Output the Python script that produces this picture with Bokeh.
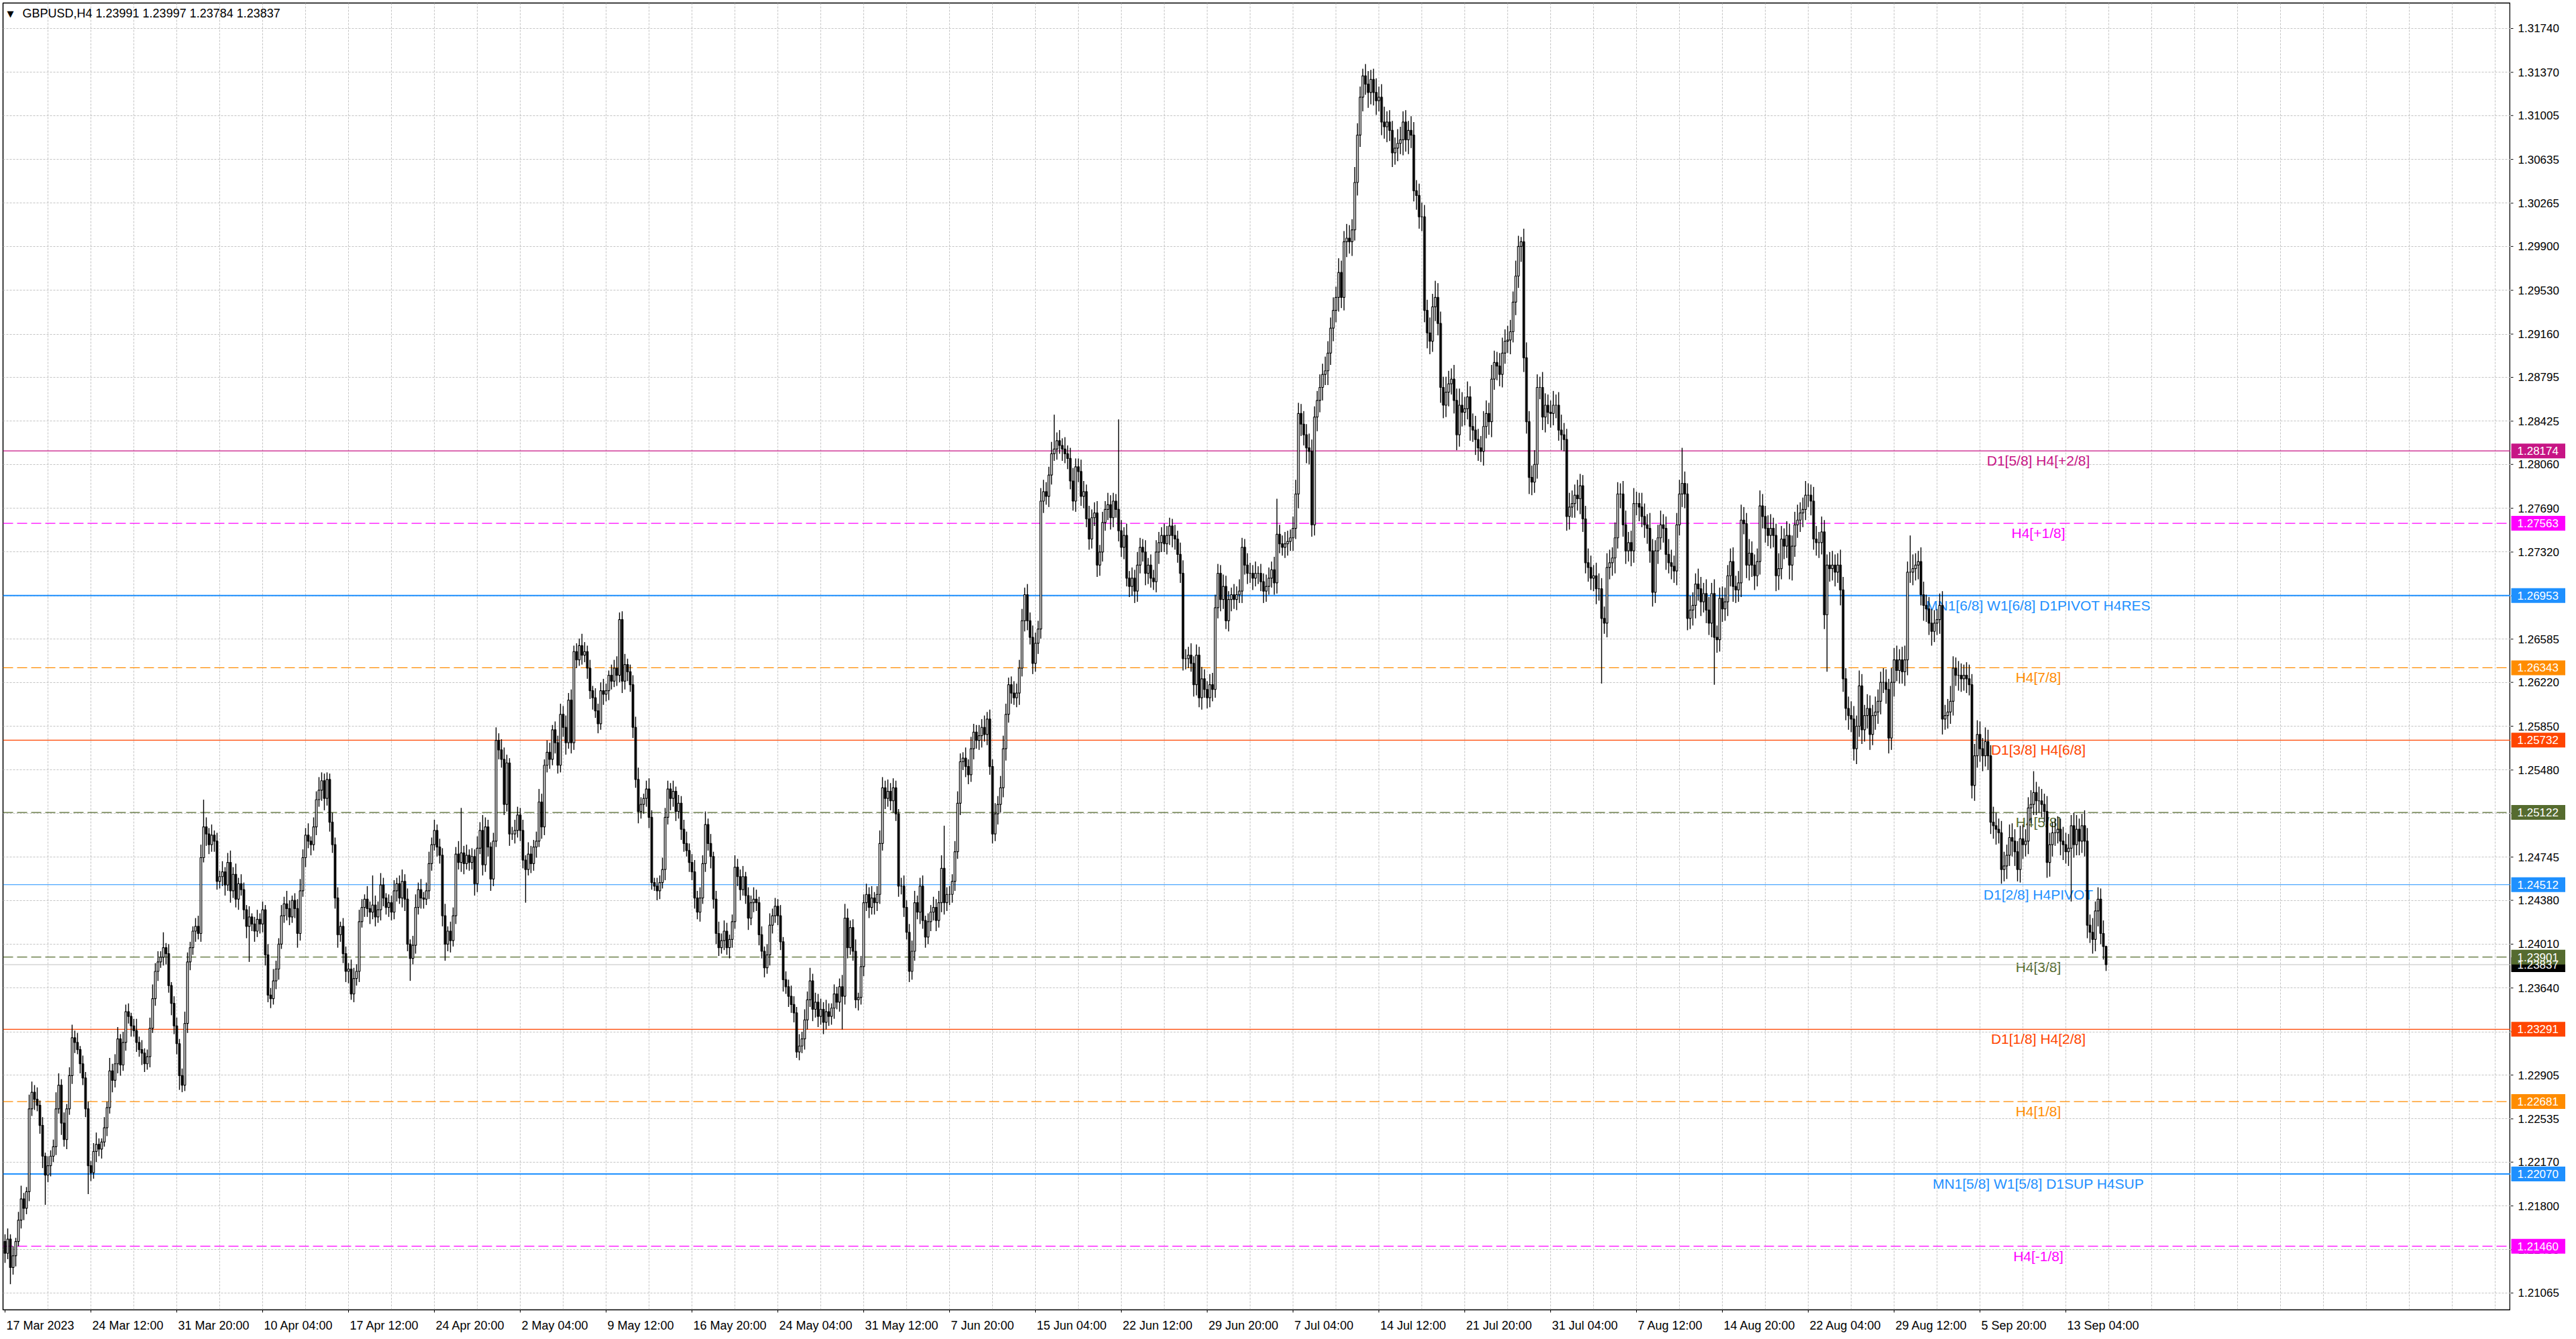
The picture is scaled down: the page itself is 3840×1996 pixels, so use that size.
import numpy as np
from bokeh.plotting import figure
from bokeh.layouts import row
from bokeh.models import (ColumnDataSource, Span, Label, FixedTicker, Range1d, LinearAxis,
                          CustomJSTickFormatter)
from bokeh.core.properties import value
from bokeh.embed import file_html
from bokeh.resources import INLINE

# GBPUSD H4 closes, in pips above 1.2000 (one row = 16 bars)
close_pips = [
    140, 152, 128, 138, 150, 168, 186, 178, 192, 262, 276, 270, 265, 248, 222, 206,
    214, 222, 230, 262, 282, 250, 236, 262, 290, 322, 318, 312, 300, 288, 262, 214,
    208, 226, 232, 228, 234, 246, 263, 294, 286, 300, 321, 299, 318, 344, 340, 332,
    328, 318, 312, 309, 300, 306, 330, 355, 378, 386, 390, 398, 393, 366, 351, 332,
    317, 290, 282, 334, 386, 398, 412, 416, 410, 474, 500, 494, 485, 493, 488, 454,
    458, 462, 451, 470, 446, 460, 439, 452, 447, 430, 416, 424, 418, 412, 422, 418,
    430, 392, 358, 355, 370, 380, 401, 425, 435, 431, 424, 438, 431, 410, 446, 474,
    493, 488, 485, 500, 523, 531, 539, 524, 540, 504, 485, 440, 409, 416, 393, 378,
    380, 359, 372, 378, 420, 432, 439, 431, 428, 434, 424, 430, 451, 440, 432, 436,
    428, 446, 452, 440, 454, 439, 401, 389, 400, 432, 447, 440, 439, 446, 469, 485,
    497, 483, 476, 425, 401, 412, 404, 425, 477, 470, 478, 469, 476, 470, 475, 452,
    482, 497, 468, 500, 483, 456, 488, 573, 565, 557, 519, 554, 494, 494, 497, 510,
    497, 472, 464, 477, 469, 483, 488, 521, 500, 552, 563, 557, 582, 571, 552, 595,
    584, 571, 607, 571, 648, 641, 653, 645, 648, 634, 615, 609, 598, 587, 615, 612,
    615, 628, 623, 634, 628, 675, 623, 637, 631, 620, 584, 540, 513, 519, 524, 532,
    508, 453, 450, 446, 453, 464, 508, 532, 524, 530, 513, 520, 498, 486, 480, 470,
    462, 440, 428, 440, 469, 502, 486, 475, 439, 410, 398, 404, 412, 398, 405, 420,
    466, 458, 447, 458, 442, 423, 436, 439, 436, 409, 395, 381, 392, 417, 425, 433,
    425, 403, 371, 365, 357, 350, 343, 310, 315, 321, 337, 354, 370, 346, 352, 340,
    346, 335, 344, 340, 347, 359, 352, 365, 357, 423, 398, 415, 395, 354, 356, 382,
    436, 443, 432, 440, 436, 443, 486, 533, 524, 530, 522, 533, 511, 450, 450, 432,
    411, 378, 395, 436, 428, 450, 421, 407, 420, 428, 432, 421, 436, 465, 436, 443,
    443, 454, 479, 520, 555, 558, 551, 544, 566, 580, 573, 577, 584, 578, 591, 551,
    494, 511, 519, 533, 566, 595, 620, 613, 609, 613, 634, 674, 696, 674, 660, 638,
    655, 667, 775, 783, 779, 797, 815, 819, 826, 822, 819, 815, 811, 792, 775, 804,
    800, 779, 783, 760, 743, 761, 765, 721, 732, 757, 768, 772, 761, 775, 768, 750,
    736, 746, 710, 703, 710, 699, 721, 736, 732, 714, 721, 710, 707, 732, 740, 746,
    739, 746, 754, 746, 743, 730, 714, 642, 642, 645, 638, 620, 645, 609, 625, 616,
    609, 620, 616, 685, 714, 692, 703, 674, 692, 696, 692, 696, 699, 736, 721, 714,
    714, 710, 714, 714, 707, 699, 703, 710, 717, 706, 747, 739, 736, 739, 741, 744,
    752, 781, 849, 840, 831, 820, 817, 755, 846, 860, 871, 882, 885, 900, 921, 936,
    947, 968, 947, 994, 997, 994, 1004, 1044, 1084, 1116, 1134, 1127, 1120, 1131, 1120, 1113,
    1116, 1095, 1091, 1095, 1088, 1069, 1073, 1077, 1080, 1095, 1080, 1088, 1084, 1037, 1033, 1015,
    1015, 936, 917, 910, 939, 947, 925, 871, 856, 867, 874, 878, 860, 831, 856, 850,
    853, 863, 838, 835, 827, 820, 817, 838, 849, 842, 878, 892, 889, 882, 900, 910,
    911, 918, 943, 965, 990, 994, 896, 842, 795, 791, 806, 871, 871, 846, 856, 850,
    849, 856, 856, 835, 831, 827, 762, 770, 773, 780, 777, 788, 760, 723, 719, 710,
    712, 701, 701, 676, 672, 719, 723, 727, 744, 781, 781, 755, 733, 740, 733, 773,
    773, 770, 762, 755, 752, 733, 698, 733, 744, 755, 752, 730, 723, 720, 716, 755,
    781, 790, 781, 676, 683, 687, 705, 701, 690, 697, 683, 672, 697, 660, 658, 693,
    684, 690, 712, 724, 703, 700, 706, 759, 756, 721, 731, 721, 712, 724, 771, 762,
    752, 746, 752, 746, 712, 718, 743, 737, 746, 721, 737, 755, 759, 765, 768, 780,
    780, 775, 743, 740, 740, 749, 679, 721, 718, 721, 715, 721, 700, 625, 600, 594,
    591, 566, 585, 619, 582, 594, 600, 578, 594, 597, 606, 622, 622, 616, 575, 622,
    641, 632, 641, 631, 641, 715, 715, 718, 721, 724, 696, 687, 684, 672, 665, 672,
    675, 687, 591, 594, 597, 606, 634, 628, 628, 625, 628, 625, 620, 535, 560, 578,
    566, 560, 572, 560, 504, 501, 498, 495, 464, 467, 476, 491, 488, 479, 464, 490,
    485, 488, 516, 519, 529, 522, 522, 519, 513, 470, 485, 495, 495, 498, 488, 485,
    479, 482, 501, 485, 498, 488, 501, 488, 417, 411, 405, 429, 439, 410, 399, 384,
]

# upper wick above the body top, in pips
hi_wick = [
    6, 9, 4, 8, 3, 7, 11, 5, 4, 12, 9, 6, 10, 4, 7, 3,
    8, 5, 6, 14, 10, 5, 9, 4, 7, 11, 6, 8, 3, 7, 5, 6,
    4, 7, 10, 5, 3, 9, 5, 11, 6, 8, 10, 4, 9, 6, 7, 3,
    6, 10, 5, 8, 4, 6, 9, 12, 7, 9, 5, 13, 4, 8, 3, 6,
    7, 4, 6, 10, 8, 5, 4, 7, 9, 11, 23, 8, 5, 9, 4, 7,
    5, 9, 4, 8, 10, 6, 9, 5, 8, 6, 4, 9, 3, 6, 8, 5,
    7, 4, 9, 6, 10, 7, 5, 9, 6, 11, 7, 4, 6, 8, 10, 7,
    6, 10, 4, 8, 7, 11, 7, 6, 6, 5, 8, 6, 9, 4, 7, 6,
    5, 8, 9, 6, 10, 7, 4, 11, 6, 25, 8, 7, 10, 6, 4, 7,
    6, 9, 5, 7, 10, 6, 9, 4, 8, 11, 6, 9, 5, 7, 10, 6,
    9, 5, 7, 6, 10, 4, 8, 7, 6, 11, 38, 6, 9, 5, 7, 6,
    10, 7, 13, 8, 6, 4, 7, 11, 6, 9, 10, 7, 4, 6, 9, 7,
    6, 9, 4, 10, 7, 6, 8, 11, 7, 5, 10, 8, 4, 7, 6, 9,
    7, 10, 6, 9, 5, 7, 6, 10, 8, 5, 7, 4, 8, 6, 7, 10,
    6, 4, 9, 7, 10, 6, 7, 9, 5, 6, 8, 9, 10, 6, 4, 7,
    9, 6, 4, 7, 6, 10, 8, 7, 5, 9, 4, 7, 6, 8, 10, 6,
    7, 10, 6, 9, 7, 11, 5, 8, 4, 7, 10, 6, 9, 7, 4, 6,
    10, 7, 6, 9, 4, 7, 6, 10, 8, 5, 7, 4, 9, 10, 6, 7,
    6, 9, 4, 7, 6, 9, 7, 5, 10, 6, 9, 7, 11, 6, 8, 7,
    9, 6, 10, 7, 4, 8, 6, 7, 10, 12, 8, 6, 7, 10, 4, 9,
    7, 9, 6, 10, 5, 7, 11, 9, 6, 10, 7, 8, 6, 4, 7, 9,
    6, 7, 9, 10, 6, 7, 9, 4, 7, 6, 9, 7, 10, 11, 36, 6,
    7, 6, 9, 10, 7, 5, 9, 6, 10, 7, 6, 9, 7, 10, 6, 8,
    6, 9, 7, 10, 11, 9, 6, 7, 10, 8, 7, 10, 6, 9, 7, 10,
    9, 7, 11, 10, 8, 7, 10, 29, 7, 9, 6, 10, 7, 9, 11, 7,
    7, 10, 9, 6, 11, 7, 9, 10, 6, 9, 7, 10, 8, 7, 6, 76,
    9, 7, 10, 6, 9, 7, 11, 8, 7, 10, 6, 9, 7, 10, 9, 7,
    10, 8, 7, 6, 9, 7, 10, 11, 8, 7, 10, 6, 9, 7, 10, 8,
    7, 9, 10, 11, 8, 7, 10, 9, 7, 6, 9, 7, 10, 8, 7, 10,
    9, 7, 10, 6, 8, 7, 10, 9, 7, 11, 30, 8, 7, 10, 9, 7,
    10, 12, 9, 8, 11, 9, 12, 10, 9, 8, 11, 9, 12, 10, 9, 11,
    9, 12, 10, 9, 12, 11, 9, 13, 10, 9, 6, 10, 11, 8, 9, 12,
    9, 11, 13, 9, 10, 8, 9, 12, 11, 9, 10, 8, 12, 11, 9, 10,
    12, 10, 9, 13, 11, 14, 12, 10, 9, 13, 11, 9, 12, 10, 14, 11,
    10, 13, 9, 11, 12, 9, 10, 13, 11, 9, 12, 10, 9, 11, 13, 10,
    12, 10, 9, 13, 9, 4, 11, 13, 9, 10, 12, 11, 9, 13, 10, 9,
    10, 12, 9, 11, 13, 10, 9, 12, 11, 9, 13, 10, 9, 11, 12, 10,
    9, 11, 13, 9, 10, 12, 11, 9, 13, 10, 9, 11, 12, 9, 10, 13,
    10, 9, 12, 11, 9, 13, 10, 9, 11, 12, 9, 10, 13, 11, 9, 10,
    12, 30, 10, 9, 12, 11, 9, 13, 10, 9, 12, 11, 9, 12, 10, 9,
    10, 12, 9, 11, 12, 9, 10, 13, 11, 9, 12, 10, 9, 11, 13, 10,
    9, 11, 12, 9, 10, 13, 11, 9, 12, 10, 9, 11, 13, 9, 10, 12,
    10, 9, 12, 11, 9, 13, 10, 9, 11, 12, 9, 10, 13, 11, 9, 10,
    12, 11, 9, 13, 10, 9, 12, 11, 9, 13, 10, 9, 12, 11, 9, 12,
    10, 12, 9, 11, 12, 9, 31, 12, 10, 9, 12, 11, 9, 10, 12, 11,
    9, 10, 12, 9, 11, 13, 10, 9, 12, 10, 9, 11, 12, 9, 10, 12,
    11, 9, 12, 10, 9, 13, 11, 9, 10, 12, 9, 11, 12, 10, 9, 11,
    12, 10, 9, 12, 18, 9, 12, 10, 9, 13, 10, 9, 12, 11, 9, 12,
    10, 12, 9, 11, 12, 9, 10, 13, 11, 9, 12, 8, 10, 9, 11, 1,
]

# lower wick below the body bottom, in pips
lo_wick = [
    8, 5, 14, 6, 9, 4, 7, 10, 5, 8, 6, 9, 5, 7, 10, 25,
    6, 9, 5, 7, 4, 10, 6, 8, 5, 7, 9, 4, 8, 6, 7, 24,
    7, 5, 9, 6, 8, 4, 7, 5, 10, 6, 8, 9, 5, 7, 6, 9,
    5, 8, 6, 10, 7, 5, 9, 4, 6, 8, 5, 7, 9, 6, 10, 7,
    9, 12, 6, 5, 8, 7, 6, 9, 5, 7, 4, 10, 8, 6, 9, 7,
    6, 8, 9, 5, 10, 6, 7, 9, 5, 8, 10, 30, 6, 9, 5, 8,
    7, 9, 6, 8, 5, 7, 9, 4, 6, 10, 7, 5, 8, 12, 6, 5,
    8, 6, 9, 5, 7, 6, 9, 10, 6, 8, 7, 9, 11, 6, 8, 9,
    10, 5, 7, 6, 9, 5, 8, 7, 10, 6, 8, 5, 9, 7, 6, 8,
    7, 6, 9, 5, 8, 10, 6, 19, 5, 7, 6, 9, 8, 5, 7, 6,
    5, 8, 7, 9, 14, 6, 10, 5, 7, 6, 8, 9, 5, 7, 6, 10,
    7, 5, 9, 6, 8, 10, 6, 5, 8, 7, 9, 6, 10, 5, 8, 6,
    9, 7, 28, 5, 8, 6, 9, 5, 10, 7, 6, 8, 5, 9, 7, 6,
    8, 10, 5, 9, 6, 7, 5, 8, 6, 9, 7, 10, 6, 8, 5, 9,
    6, 8, 7, 5, 9, 6, 10, 7, 8, 6, 9, 7, 10, 6, 8, 7,
    9, 6, 4, 8, 7, 5, 9, 6, 10, 7, 8, 6, 9, 7, 5, 8,
    7, 9, 6, 8, 5, 7, 6, 10, 8, 9, 7, 5, 8, 6, 9, 7,
    6, 8, 9, 5, 7, 10, 6, 8, 7, 9, 6, 8, 5, 9, 7, 6,
    8, 7, 10, 6, 9, 7, 8, 5, 7, 6, 9, 8, 6, 10, 7, 9,
    7, 10, 6, 8, 7, 9, 6, 8, 28, 7, 9, 6, 8, 7, 9, 6,
    8, 7, 9, 6, 10, 7, 8, 6, 9, 7, 8, 10, 6, 9, 7, 8,
    6, 9, 7, 8, 6, 10, 7, 9, 6, 8, 7, 9, 6, 8, 10, 7,
    9, 7, 8, 6, 10, 7, 9, 8, 6, 9, 7, 8, 10, 6, 9, 7,
    8, 6, 9, 7, 8, 10, 7, 9, 6, 8, 10, 7, 9, 8, 6, 9,
    7, 9, 8, 10, 7, 9, 8, 6, 9, 7, 10, 8, 9, 7, 8, 9,
    9, 8, 10, 7, 9, 8, 7, 10, 9, 8, 7, 9, 10, 8, 7, 9,
    8, 10, 7, 9, 8, 10, 9, 7, 8, 10, 9, 8, 7, 9, 10, 8,
    7, 9, 8, 10, 9, 7, 8, 10, 9, 8, 7, 10, 9, 8, 10, 7,
    9, 8, 10, 7, 9, 10, 8, 7, 9, 10, 8, 9, 7, 10, 8, 9,
    8, 10, 7, 9, 8, 10, 9, 7, 8, 10, 9, 8, 7, 9, 10, 8,
    11, 9, 12, 10, 9, 13, 11, 10, 9, 12, 10, 11, 9, 12, 10, 11,
    10, 12, 9, 11, 13, 10, 12, 9, 11, 10, 12, 9, 13, 10, 11, 12,
    9, 11, 10, 13, 9, 12, 10, 11, 9, 13, 10, 12, 11, 9, 12, 10,
    12, 10, 13, 11, 9, 12, 10, 13, 11, 10, 12, 9, 11, 13, 10, 12,
    11, 9, 12, 10, 13, 11, 9, 12, 10, 11, 13, 9, 12, 10, 11, 9,
    10, 12, 9, 11, 10, 13, 12, 10, 14, 11, 9, 12, 10, 11, 13, 10,
    12, 10, 11, 9, 13, 10, 12, 11, 9, 12, 10, 13, 11, 9, 12, 10,
    11, 13, 10, 55, 9, 12, 10, 11, 13, 9, 12, 10, 11, 9, 13, 10,
    10, 12, 9, 11, 13, 10, 12, 9, 11, 10, 12, 13, 9, 11, 10, 12,
    9, 11, 12, 10, 9, 13, 11, 10, 12, 9, 11, 10, 12, 40, 11, 10,
    11, 10, 12, 9, 13, 11, 10, 12, 9, 11, 13, 10, 12, 9, 11, 10,
    12, 9, 11, 10, 13, 12, 9, 11, 10, 12, 13, 9, 11, 10, 12, 9,
    10, 12, 9, 11, 13, 10, 12, 48, 11, 10, 12, 9, 13, 11, 10, 12,
    11, 10, 13, 9, 12, 10, 11, 13, 9, 12, 10, 11, 9, 12, 13, 10,
    12, 9, 11, 10, 12, 13, 9, 11, 10, 12, 9, 13, 11, 10, 12, 9,
    10, 12, 13, 9, 11, 10, 12, 9, 13, 11, 10, 12, 9, 11, 13, 10,
    11, 13, 9, 12, 10, 11, 13, 9, 12, 10, 11, 9, 13, 12, 10, 11,
    12, 10, 11, 13, 9, 12, 10, 11, 9, 13, 12, 10, 11, 9, 12, 13,
    10, 12, 45, 11, 9, 12, 10, 13, 11, 9, 12, 10, 13, 9, 11, 5,
]

first_open = 150
last_bar = [1.23991, 1.23997, 1.23784, 1.23837]  # O H L C of the current bar

time_labels = ["17 Mar 2023", "24 Mar 12:00", "31 Mar 20:00", "10 Apr 04:00", "17 Apr 12:00",
               "24 Apr 20:00", "2 May 04:00", "9 May 12:00", "16 May 20:00", "24 May 04:00",
               "31 May 12:00", "7 Jun 20:00", "15 Jun 04:00", "22 Jun 12:00", "29 Jun 20:00",
               "7 Jul 04:00", "14 Jul 12:00", "21 Jul 20:00", "31 Jul 04:00", "7 Aug 12:00",
               "14 Aug 20:00", "22 Aug 04:00", "29 Aug 12:00", "5 Sep 20:00", "13 Sep 04:00"]
bars_per_label = 32

price_ticks = [1.31740, 1.31370, 1.31005, 1.30635, 1.30265, 1.29900, 1.29530, 1.29160,
               1.28795, 1.28425, 1.28060, 1.27690, 1.27320, 1.26950, 1.26585, 1.26220,
               1.25850, 1.25480, 1.25115, 1.24745, 1.24380, 1.24010, 1.23640, 1.23270,
               1.22905, 1.22535, 1.22170, 1.21800, 1.21430, 1.21065]

# Murrey-math style levels
levels = [1.28174, 1.27563, 1.26953, 1.26343, 1.25732, 1.25122,
          1.24512, 1.23901, 1.23291, 1.22681, 1.22070, 1.21460]
level_names = ["D1[5/8] H4[+2/8]", "H4[+1/8]", "MN1[6/8] W1[6/8] D1PIVOT H4RES", "H4[7/8]",
               "D1[3/8] H4[6/8]", "H4[5/8]", "D1[2/8] H4PIVOT", "H4[3/8]",
               "D1[1/8] H4[2/8]", "H4[1/8]", "MN1[5/8] W1[5/8] D1SUP H4SUP", "H4[-1/8]"]
level_colors = ["#C71585", "#FF00FF", "#1E90FF", "#FF8C00", "#FF4500", "#556B2F",
                "#1E90FF", "#556B2F", "#FF4500", "#FF8C00", "#1E90FF", "#FF00FF"]
level_dashed = [False, True, False, True, False, True, False, True, False, True, False, True]
level_widths = [1.2, 1.2, 2, 1.2, 1.2, 1.2, 1.2, 1.2, 1.2, 1.2, 2, 1.2]

# ---------------------------------------------------------------
n = len(close_pips)
close = 1.2 + np.array(close_pips) / 10000.0
open_ = np.concatenate([[1.2 + first_open / 10000.0], close[:-1]])
high = np.maximum(open_, close) + np.array(hi_wick) / 10000.0
low = np.minimum(open_, close) - np.array(lo_wick) / 10000.0
open_[-1], high[-1], low[-1], close[-1] = last_bar
x = np.arange(n)
up = close >= open_

FONT = "Liberation Sans"
BORDER = 4
FRAME_W, FRAME_H = 3738, 1948
SCALE_W = 82
x_start, x_end = -0.75, 933.75
y_lo, y_hi = 1.20923, 1.31955

p = figure(frame_width=FRAME_W, frame_height=FRAME_H,
           x_range=Range1d(x_start, x_end), y_range=Range1d(y_lo, y_hi),
           y_axis_location=None, output_backend="svg", toolbar_location=None,
           min_border_left=BORDER, min_border_top=BORDER, min_border_right=0, min_border_bottom=0)
p.background_fill_color = "white"
p.border_fill_color = "white"
p.outline_line_color = "black"
p.outline_line_width = 1.5

# grid
p.xgrid.ticker = FixedTicker(ticks=list(range(16, int(x_end) + 1, 16)))
p.ygrid.ticker = FixedTicker(ticks=price_ticks)
p.grid.grid_line_color = "#c4c4c4"
p.grid.grid_line_dash = "3 2"
p.grid.grid_line_width = 1

# time axis: one axis carries the tick marks, a second one the left-aligned texts
tick_pos = [i * bars_per_label for i in range(len(time_labels))]
tax = p.xaxis[0]
tax.ticker = FixedTicker(ticks=tick_pos)
tax.formatter = CustomJSTickFormatter(code="return ''")
tax.major_label_text_font_size = "0px"
tax.major_label_standoff = 0
tax.minor_tick_line_color = None
tax.major_tick_in = 0
tax.major_tick_out = 4
tax.axis_line_color = "black"

ARIAL = {" ": 0.278, ":": 0.278, "M": 0.833, "A": 0.667, "J": 0.5, "S": 0.667, "a": 0.556,
         "r": 0.333, "p": 0.556, "y": 0.5, "u": 0.556, "n": 0.556, "l": 0.222, "g": 0.556,
         "e": 0.556}
bar_px = FRAME_W / (x_end - x_start)
label_mid = [round(t + 0.5 + sum(ARIAL.get(c, 0.556) for c in s) * 18 / 2 / bar_px, 3)
             for t, s in zip(tick_pos, time_labels)]
lab_axis = LinearAxis(ticker=FixedTicker(ticks=label_mid),
                      formatter=CustomJSTickFormatter(args=dict(mids=label_mid, labels=time_labels), code="""
                          let best = 0
                          for (let i = 0; i < mids.length; i++) {
                              if (Math.abs(mids[i] - tick) < Math.abs(mids[best] - tick)) best = i
                          }
                          return labels[best]
                      """),
                      axis_line_color=None, major_tick_line_color=None, minor_tick_line_color=None,
                      major_label_standoff=3, major_label_text_font=FONT,
                      major_label_text_font_size="18px", major_label_text_color="black")
p.add_layout(lab_axis, "below")

# level lines and their names (behind the candles)
for lv, name, col, dashed, w in zip(levels, level_names, level_colors, level_dashed, level_widths):
    p.add_layout(Span(location=lv, dimension="width", line_color=col, line_width=w,
                      line_dash="15 6" if dashed else "solid", level="underlay"))
    p.add_layout(Label(x=757.75, y=lv, text=name, text_align="center", text_baseline="top",
                       y_offset=-3, text_color=col, text_font=FONT, text_font_size="21px",
                       level="underlay"))

# bid line
p.add_layout(Span(location=last_bar[3], dimension="width", line_color="#c0c0c0",
                  line_width=1, level="underlay"))

# candles
src_all = ColumnDataSource(dict(x=x, high=high, low=low))
src_up = ColumnDataSource(dict(x=x[up], top=close[up], bottom=open_[up]))
src_dn = ColumnDataSource(dict(x=x[~up], top=open_[~up], bottom=close[~up]))
p.segment(x0="x", y0="high", x1="x", y1="low", source=src_all, line_color="black", line_width=1.4)
p.vbar(x="x", width=0.65, top="top", bottom="bottom", source=src_up,
       fill_color="white", line_color="black", line_width=1.2)
p.vbar(x="x", width=0.65, top="top", bottom="bottom", source=src_dn,
       fill_color="black", line_color="black", line_width=1.2)

# header
p.add_layout(Label(x=2, y=1.31865, text="\u25BC", text_align="center", text_baseline="middle",
                   text_font="DejaVu Sans", text_font_size="13px", text_color="black"))
p.add_layout(Label(x=6.5, y=1.31865,
                   text="GBPUSD,H4  " + " ".join(f"{v:.5f}" for v in last_bar),
                   text_align="left", text_baseline="middle", text_font=FONT,
                   text_font_size="18px", text_color="black"))

# price scale panel on the right, sharing the price range
s = figure(frame_width=SCALE_W, frame_height=FRAME_H, x_range=Range1d(0, SCALE_W), y_range=p.y_range,
           x_axis_location=None, y_axis_location=None, output_backend="svg", toolbar_location=None,
           min_border_left=0, min_border_top=BORDER, min_border_right=0, min_border_bottom=0)
s.grid.visible = False
s.outline_line_color = None
s.background_fill_color = "white"
s.border_fill_color = "white"

tick_src = ColumnDataSource(dict(y=price_ticks, label=[f"{t:.5f}" for t in price_ticks]))
s.segment(x0=0, x1=4, y0="y", y1="y", source=tick_src, line_color="black", line_width=1)
s.text(x=11, y="y", text="label", source=tick_src, text_font=value(FONT), text_font_size="17px",
       text_color="black", text_align="left", text_baseline="middle")

# price tags: bid first, so the level tag covers it
tag_values = [last_bar[3]] + levels
tag_colors = ["black"] + level_colors
tag_src = ColumnDataSource(dict(y=tag_values, color=tag_colors,
                                label=[f"{v:.5f}" for v in tag_values]))
s.rect(x=41.5, y="y", width=81, height=22, height_units="screen", source=tag_src,
       fill_color="color", line_color=None)
s.text(x=10, y="y", text="label", source=tag_src, text_font=value(FONT), text_font_size="17px",
       text_color="white", text_align="left", text_baseline="middle")

layout = row(p, s)
open("out.html", "w").write(file_html(layout, INLINE))
